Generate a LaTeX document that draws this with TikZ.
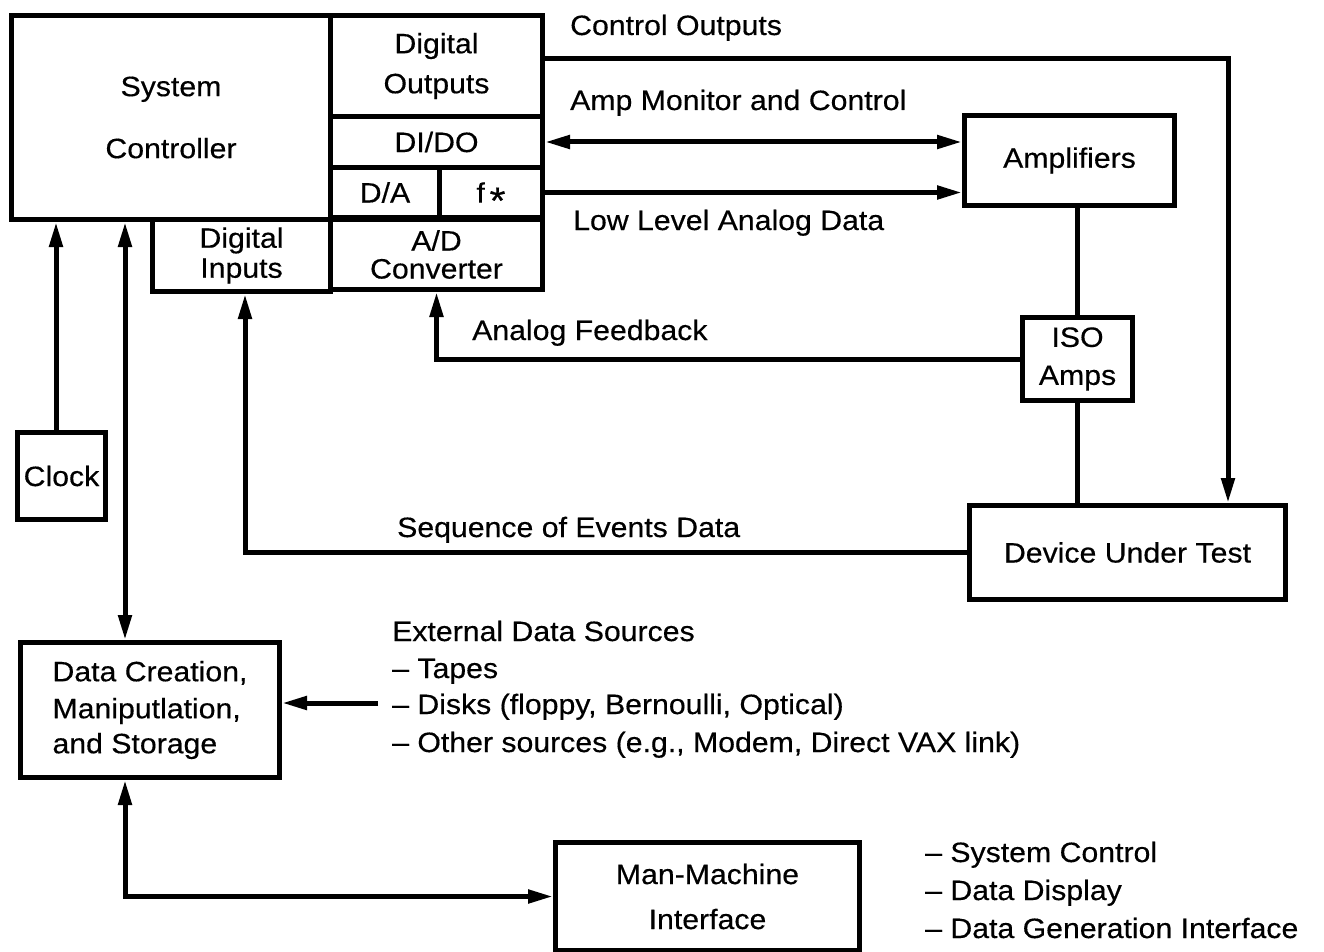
\documentclass[tikz,border=0pt]{standalone}
\usepackage{fontspec}
\setmainfont{Liberation Sans}[FakeStretch=1.08, FakeBold=0.4]
\usetikzlibrary{arrows.meta}

\begin{document}
\begin{tikzpicture}[x=1pt,y=-1pt,
  every node/.style={font=\fontsize{28pt}{33pt}\selectfont, inner sep=0pt},
  box/.style={draw, line width=5pt, anchor=north west, align=center},
  lbl/.style={anchor=base west},
  wire/.style={line width=5pt},
  tip/.style={-{Triangle[length=25pt,width=13pt]}},
  tips/.style={{Triangle[length=25pt,width=13pt]}-{Triangle[length=25pt,width=13pt]}}]
\useasboundingbox (0,0) rectangle (1324,952);

% controller block and its interface cards
\node[box, minimum width=319pt, minimum height=204pt] (ctrl) at (9,13) {System\\[29pt]Controller};
\node[box, minimum width=212pt, minimum height=101pt] (dout) at (328,13) {Digital\\[7pt]Outputs};
\node[box, minimum width=212pt, minimum height=51pt] (dido) at (328,114) {DI/DO};
\node[box, minimum width=109pt, minimum height=50pt] (da) at (328,165) {D/A};
\node[box, minimum width=103pt, minimum height=50pt] (fstar) at (437,165)
  {f\,\raisebox{-0.75ex}[0pt][0pt]{\fontsize{38pt}{38pt}\selectfont *}};
\node[box, minimum width=212pt, minimum height=70pt] (adc) at (328,217) {A/D\\[-5pt]Converter};
\node[box, minimum width=178pt, minimum height=72pt] (din) at (150,217) {Digital\\[-3pt]Inputs};

% test hardware
\node[box, minimum width=210pt, minimum height=90pt] (amp) at (962,113) {Amplifiers};
\node[box, minimum width=110pt, minimum height=83pt] (iso) at (1020,315) {ISO\\[5pt]Amps};
\node[box, minimum width=316pt, minimum height=94pt] (dut) at (967,503) {Device Under Test};

% support blocks
\node[box, minimum width=88pt, minimum height=87pt] (clock) at (15,430) {Clock};
\node[box, minimum width=259pt, minimum height=135pt, align=left] (dcms) at (18,640)
  {Data Creation,\\[4pt]Maniputlation,\\[2pt]and Storage};
\node[box, minimum width=304pt, minimum height=108pt] (mmi) at (553,840) {Man-Machine\\[12pt]Interface};

% signal labels
\node[lbl] (lco) at (570,35) {Control Outputs};
\node[lbl] (lamc) at (570,110) {Amp Monitor and Control};
\node[lbl] (llad) at (573,230) {Low Level Analog Data};
\node[lbl] (laf) at (472,340) {Analog Feedback};
\node[lbl] (lsoe) at (397,537) {Sequence of Events Data};

% external data sources
\node[lbl] (ext1) at (392,641) {External Data Sources};
\node[lbl] (ext2) at (392,678) {– Tapes};
\node[lbl] (ext3) at (392,714) {– Disks (floppy, Bernoulli, Optical)};
\node[lbl] (ext4) at (392,752) {– Other sources (e.g., Modem, Direct VAX link)};

% man-machine functions
\node[lbl] (mm1) at (925,862) {– System Control};
\node[lbl] (mm2) at (925,900) {– Data Display};
\node[lbl] (mm3) at (925,938) {– Data Generation Interface};

% connectors
\coordinate (co) at (1228,59);
\draw[wire, tip] (dout.east |- co) -- (co) -- (co |- dut.north);
\draw[wire, tips] (dido.east) -- (dido.east -| amp.west);
\draw[wire, tip] (fstar.east) -- (fstar.east -| amp.west);
\draw[wire] (iso.north) -- (iso.north |- amp.south);
\draw[wire] (iso.south) -- (iso.south |- dut.north);
\draw[wire, tip] (iso.west) -- (iso.west -| adc.south) -- (adc.south);
\coordinate (soe) at (245,0);
\draw[wire, tip] (dut.west) -- (dut.west -| soe) -- (soe |- din.south);
\coordinate (clk) at (56,0);
\draw[wire, tip] (clk |- clock.north) -- (clk |- ctrl.south);
\coordinate (bus) at (125,0);
\draw[wire, tips] (bus |- ctrl.south) -- (bus |- dcms.north);
\coordinate (ext) at (378,703);
\draw[wire, tip] (ext) -- (ext -| dcms.east);
\draw[wire, tips] (bus |- dcms.south) -- (bus |- mmi.west) -- (mmi.west);
\end{tikzpicture}
\end{document}
